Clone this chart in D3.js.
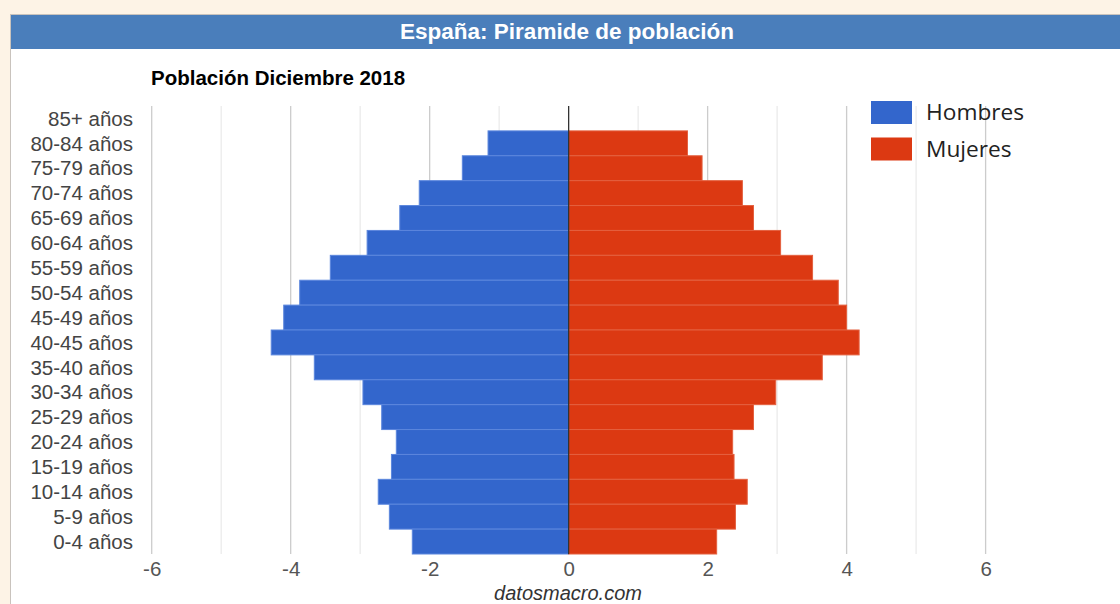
<!DOCTYPE html>
<html>
<head>
<meta charset="utf-8">
<script src="https://cdn.jsdelivr.net/npm/d3@7"></script>
<style>
  html, body { margin: 0; padding: 0; background: #fdf3e6; }
  svg { display: block; }
</style>
</head>
<body>
<svg id="chart" width="1120" height="604"></svg>
<script>
// grupos de edad, de arriba abajo
const categories = ["85+ años","80-84 años","75-79 años","70-74 años","65-69 años","60-64 años",
  "55-59 años","50-54 años","45-49 años","40-45 años","35-40 años","30-34 años","25-29 años",
  "20-24 años","15-19 años","10-14 años","5-9 años","0-4 años"];
// % de población (hombres a la izquierda)
const hombres = [0, 1.16, 1.53, 2.15, 2.43, 2.90, 3.43, 3.87, 4.10, 4.28, 3.66, 2.96, 2.69, 2.48, 2.55, 2.74, 2.58, 2.25];
const mujeres = [0, 1.71, 1.92, 2.50, 2.66, 3.05, 3.51, 3.88, 4.00, 4.18, 3.65, 2.98, 2.66, 2.36, 2.38, 2.57, 2.40, 2.13];
const xTicks = [-6, -4, -2, 0, 2, 4, 6];
const series = ["Hombres", "Mujeres"];
const colors = ["#3366cc", "#dc3912"];

const font = "Liberation Sans, Arial, sans-serif";
const svg = d3.select("#chart");

// marco del panel
svg.append("rect").attr("x", 10.5).attr("y", 14.5).attr("width", 1120).attr("height", 600)
  .attr("fill", "#fff").attr("stroke", "#c9c3bd");
svg.append("rect").attr("x", 11).attr("y", 15).attr("width", 1109).attr("height", 34)
  .attr("fill", "#4a7ebb");
svg.append("text").attr("x", 567).attr("y", 38.5).attr("text-anchor", "middle")
  .attr("font-family", font).attr("font-weight", "bold")
  .attr("font-size", 22.5).attr("fill", "#fff").text("España: Piramide de población");

svg.append("text").attr("x", 151).attr("y", 85)
  .attr("font-family", font).attr("font-weight", "bold")
  .attr("font-size", 20.5).attr("fill", "#000").text("Población Diciembre 2018");

const x = d3.scaleLinear().domain([-6, 6]).range([151.7, 985.6]);
const y = d3.scaleBand().domain(categories).range([106, 554]).padding(0);

// rejilla
const grid = svg.append("g");
d3.range(-6, 7).forEach(v => {
  if (v === 0) return;
  grid.append("line").attr("x1", x(v)).attr("x2", x(v)).attr("y1", 106).attr("y2", 554)
    .attr("stroke", v % 2 === 0 ? "#cccccc" : "#ebebeb").attr("stroke-width", 1.3);
});

const bars = svg.append("g");
bars.selectAll(".h").data(categories).join("rect")
  .attr("x", (d, i) => x(-hombres[i])).attr("y", d => y(d))
  .attr("width", (d, i) => x(0) - x(-hombres[i])).attr("height", y.bandwidth())
  .attr("fill", colors[0]).attr("stroke", "#5b86dd").attr("stroke-width", 1);
bars.selectAll(".m").data(categories).join("rect")
  .attr("x", x(0)).attr("y", d => y(d))
  .attr("width", (d, i) => x(mujeres[i]) - x(0)).attr("height", y.bandwidth())
  .attr("fill", colors[1]).attr("stroke", "#e4603f").attr("stroke-width", 1);

svg.append("line").attr("x1", x(0)).attr("x2", x(0)).attr("y1", 106).attr("y2", 554)
  .attr("stroke", "#333").attr("stroke-width", 1.3);

// ejes
const yAxis = svg.append("g").attr("transform", "translate(133,0)")
  .call(d3.axisLeft(y).tickSize(0).tickPadding(0));
yAxis.select(".domain").remove();
yAxis.selectAll("text").attr("font-family", font)
  .attr("font-size", 20.5).attr("fill", "#444").attr("dy", "0.35em");

const xAxis = svg.append("g").attr("transform", "translate(0,561)")
  .call(d3.axisBottom(x).tickValues(xTicks).tickSize(0).tickPadding(0).tickFormat(d3.format("d")));
xAxis.select(".domain").remove();
xAxis.selectAll("text").attr("font-family", font)
  .attr("font-size", 20.5).attr("fill", "#555").attr("dy", "0.71em")
  .text(d => d < 0 ? "-" + Math.abs(d) : d);

svg.append("text").attr("x", 568).attr("y", 600).attr("text-anchor", "middle")
  .attr("font-family", font).attr("font-style", "italic")
  .attr("font-size", 20).attr("fill", "#333").text("datosmacro.com");

// leyenda
const legend = svg.append("g");
series.forEach((s, i) => {
  legend.append("rect").attr("x", 871).attr("y", 101 + i * 36.5).attr("width", 41).attr("height", 23)
    .attr("fill", colors[i]);
  legend.append("text").attr("x", 926).attr("y", 120 + i * 36.5)
    .attr("font-family", "Open Sans, sans-serif").attr("font-size", 22.7).attr("fill", "#222").text(s);
});
</script>
</body>
</html>
